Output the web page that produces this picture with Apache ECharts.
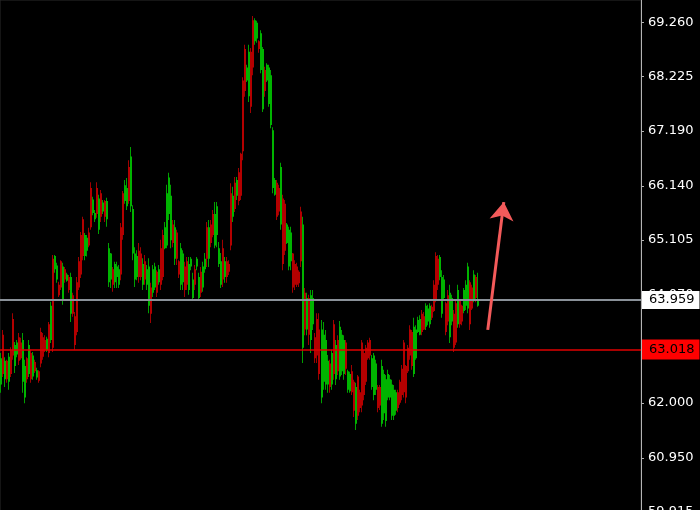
<!DOCTYPE html>
<html>
<head>
<meta charset="utf-8">
<script src="https://cdn.jsdelivr.net/npm/echarts@6/dist/echarts.min.js"></script>
<style>
html,body{margin:0;padding:0;background:#000;overflow:hidden;}
#c{width:700px;height:530px;}
</style>
</head>
<body>
<div id="c"></div>
<script>
// ---- data ----
const open = [
62.35,63.30,62.45,62.80,62.40,63.00,63.60,62.70,62.92,63.25,
63.15,62.40,62.10,62.85,62.55,62.95,62.50,62.78,62.48,62.60,
63.35,63.25,63.20,63.00,63.50,63.20,64.75,64.55,64.35,64.25,
64.70,63.95,64.55,64.33,64.40,63.70,64.05,63.65,64.30,64.70,
65.20,65.50,64.80,64.90,65.25,66.10,65.62,65.50,66.10,65.30,
66.00,65.65,65.85,65.50,64.30,64.35,64.55,64.30,64.40,64.25,
65.35,66.00,65.85,65.75,66.50,65.75,64.85,64.35,64.40,64.90,
64.85,64.25,64.70,64.25,63.85,64.20,64.10,64.20,64.50,64.30,
64.95,65.20,64.95,65.00,65.60,65.10,65.40,64.75,65.25,64.70,
64.25,64.30,64.60,64.70,64.15,64.60,64.00,64.55,64.60,64.00,
64.50,64.20,64.55,65.35,64.75,65.40,65.60,65.00,65.20,64.65,
64.25,64.95,64.40,64.70,64.65,66.00,65.55,66.20,65.95,66.40,
66.75,68.15,68.75,68.15,67.85,68.70,69.30,68.90,68.95,68.90,
68.35,67.60,68.35,68.15,67.70,67.30,66.10,65.97,66.20,66.10,
65.40,65.90,65.80,65.05,64.60,64.70,64.85,64.65,64.60,64.50,
65.65,63.05,64.10,63.40,64.00,63.20,63.50,63.25,63.60,63.40,
62.10,62.40,62.35,62.35,62.75,62.35,63.50,62.45,63.20,62.50,
62.60,62.55,63.15,62.25,62.22,62.60,62.40,61.60,62.50,62.20,
63.15,62.95,63.05,63.15,63.20,62.30,62.15,62.25,62.30,62.30,
61.60,61.80,61.65,62.10,62.10,61.75,61.75,61.85,62.20,62.40,
62.65,63.15,62.70,63.05,63.40,63.35,62.55,62.85,63.35,63.30,
63.70,63.65,63.45,63.55,63.50,63.83,64.25,64.80,64.75,64.40,
63.70,64.00,63.90,64.05,63.25,63.55,63.70,63.90,63.50,63.95,
63.85,63.75,63.85,63.80,64.30,64.20,63.95,64.40,63.85
];
const close = [
62.85,62.55,62.80,62.45,62.88,62.55,62.90,63.10,63.15,62.80,
62.85,63.20,62.70,62.45,63.10,62.45,62.90,62.60,62.62,62.42,
62.75,62.88,63.00,63.22,62.95,63.85,63.05,64.80,64.62,64.05,
64.20,64.60,64.35,64.45,64.15,64.40,63.70,63.10,63.35,64.20,
64.45,64.80,65.20,65.15,65.00,65.35,65.88,65.62,65.60,65.90,
65.55,65.82,65.55,65.85,64.95,64.85,64.25,64.65,64.60,64.55,
64.45,65.20,66.15,66.10,65.85,66.70,65.70,64.85,64.80,64.40,
64.40,64.65,64.35,64.55,64.60,63.70,64.55,64.60,64.10,64.55,
64.25,64.40,65.35,66.00,66.30,65.95,65.05,65.35,64.75,64.45,
64.95,64.85,64.15,64.25,64.65,64.75,64.35,64.25,64.75,64.40,
64.10,64.60,64.75,64.75,65.35,65.05,65.20,65.60,65.75,64.95,
64.70,64.35,64.70,64.40,64.50,65.00,65.95,65.70,66.25,65.85,
65.95,66.80,67.95,68.40,68.70,67.65,68.40,69.30,69.25,68.75,
69.05,68.75,67.95,68.45,68.40,68.25,67.20,66.25,65.55,65.65,
66.50,64.65,64.90,65.40,65.30,65.25,64.20,64.25,64.25,64.28,
64.70,65.40,63.40,64.00,63.30,64.05,64.00,62.85,62.90,62.55,
63.40,63.30,63.20,62.80,62.30,62.95,62.55,63.10,62.60,63.45,
63.30,63.20,62.65,62.60,62.55,62.20,61.85,62.30,61.75,61.90,
61.95,62.15,62.40,62.85,62.90,62.85,62.90,62.75,61.90,61.95,
62.70,62.55,62.45,62.55,62.45,62.35,62.25,62.20,61.90,62.00,
62.15,62.20,62.10,62.60,62.90,62.70,63.45,63.40,63.58,63.60,
63.35,63.40,63.85,63.80,63.85,63.62,63.75,63.95,64.25,64.78,
64.40,64.35,63.35,63.55,64.10,64.00,63.05,63.15,64.15,63.50,
63.55,64.15,64.25,64.60,63.50,63.80,64.45,64.00,63.959
];
const low = [
62.19,62.49,62.30,62.38,62.25,62.49,62.82,62.57,62.87,62.72,
62.82,62.19,61.99,62.38,62.49,62.38,62.44,62.57,62.44,62.38,
62.68,62.82,62.97,62.97,62.87,63.14,62.97,64.48,64.29,64.02,
64.15,63.87,64.29,64.31,64.10,63.54,63.64,63.01,63.29,64.15,
64.38,64.72,64.72,64.79,64.97,65.30,65.58,65.45,65.53,65.22,
65.45,65.60,65.45,65.36,64.21,64.19,64.12,64.19,64.19,64.19,
64.34,65.11,65.80,65.68,65.80,65.64,64.72,64.21,64.34,64.29,
64.34,64.15,64.25,64.15,63.71,63.52,64.02,64.15,64.02,64.25,
64.15,64.34,64.93,64.95,65.49,64.95,64.97,64.63,64.63,64.38,
64.15,64.15,64.02,64.15,64.06,64.53,63.96,64.15,64.53,63.96,
64.02,64.12,64.48,64.59,64.59,64.97,65.16,64.95,64.97,64.59,
64.19,64.21,64.29,64.29,64.44,64.91,65.45,65.64,65.87,65.77,
65.87,66.63,67.84,68.12,67.74,67.53,68.25,68.83,68.87,68.68,
68.29,67.55,67.84,68.12,67.65,67.24,66.00,65.95,65.49,65.58,
65.30,64.53,64.82,65.03,64.53,64.53,64.10,64.15,64.21,64.21,
64.59,62.76,63.29,63.29,63.10,62.95,63.39,62.76,62.76,62.44,
61.99,62.25,62.25,62.19,62.19,62.25,62.44,62.34,62.53,62.44,
62.53,62.44,62.53,62.19,62.19,62.15,61.73,61.48,61.67,61.82,
61.82,62.05,62.34,62.82,62.82,62.25,62.05,62.15,61.82,61.86,
61.54,61.67,61.54,62.05,62.05,61.67,61.67,61.77,61.82,61.96,
62.05,62.10,61.99,62.57,62.82,62.63,62.49,62.82,63.33,63.29,
63.29,63.39,63.39,63.48,63.43,63.58,63.73,63.92,64.15,64.34,
63.62,63.96,63.29,63.48,63.14,63.48,62.97,63.10,63.43,63.43,
63.48,63.71,63.77,63.71,63.39,63.77,63.92,63.92,63.83
];
const high = [
62.95,63.39,62.87,62.82,62.95,63.06,63.71,63.16,63.20,63.33,
63.24,63.33,62.82,62.87,63.20,63.01,62.97,62.82,62.67,62.62,
63.43,63.33,63.29,63.26,63.54,63.93,64.82,64.82,64.67,64.31,
64.72,64.67,64.59,64.48,64.44,64.48,64.10,63.73,64.40,64.78,
65.26,65.55,65.24,65.20,65.34,66.21,65.93,65.68,66.21,65.97,
66.06,65.87,65.87,65.91,65.05,64.86,64.59,64.69,64.69,64.63,
65.43,66.04,66.25,66.29,66.63,66.88,65.77,64.97,64.91,65.05,
64.97,64.76,64.82,64.63,64.76,64.29,64.63,64.67,64.53,64.63,
65.11,65.30,65.45,66.16,66.39,66.16,65.49,65.49,65.30,64.72,
65.05,64.91,64.69,64.78,64.78,64.78,64.48,64.63,64.78,64.48,
64.59,64.69,64.86,65.45,65.49,65.49,65.68,65.83,65.83,65.07,
64.86,65.11,64.78,64.78,64.72,66.19,66.12,66.31,66.31,66.48,
66.77,68.21,68.83,68.45,68.83,68.77,69.38,69.34,69.29,68.92,
69.11,68.79,68.41,68.48,68.45,68.35,67.26,66.29,66.25,66.16,
66.58,65.97,65.87,65.43,65.36,65.36,64.86,64.72,64.67,64.53,
65.74,65.55,64.19,64.10,64.06,64.15,64.15,63.33,63.71,63.71,
63.58,63.54,63.39,62.91,62.82,63.01,63.58,63.20,63.29,63.56,
63.39,63.29,63.20,62.63,62.59,62.72,62.44,62.38,62.53,62.25,
63.20,63.01,63.10,63.20,63.24,62.91,62.95,62.82,62.34,62.34,
62.82,62.63,62.53,62.63,62.53,62.44,62.34,62.25,62.25,62.44,
62.72,63.20,62.72,63.10,63.48,63.39,63.62,63.48,63.64,63.67,
63.77,63.73,63.90,63.87,63.90,63.87,64.34,64.87,64.82,64.82,
64.53,64.44,63.93,64.15,64.25,64.06,63.77,63.96,64.25,63.96,
63.87,64.19,64.34,64.67,64.34,64.25,64.53,64.44,64.48
];
const yTicks = [69.260, 68.225, 67.190, 66.140, 65.105, 64.070, 63.035, 62.000, 60.950, 59.915];
const currentPrice = 63.959;
const levelPrice = 63.018;
const arrowFrom = [243, 63.39];
const arrowTo = [251, 65.83];
const slotCount = 320; // bars plus the empty right-side shift area
const categories = Array.from({length: slotCount}, (_, i) => String(i));

const bars = open.map((o, i) => [i, o, close[i], low[i], high[i]]);

const UP_BODY = '#00b400', UP_WICK = '#00a000';
const DN_BODY = '#b40000', DN_WICK = '#a00000';

const chart = echarts.init(document.getElementById('c'), null, {renderer: 'canvas'});
const labelFont = 'DejaVu Sans';

function renderBar(params, api) {
  const idx = api.value(0);
  const o = api.value(1), c = api.value(2), l = api.value(3), h = api.value(4);
  const pO = api.coord([idx, o]);
  const pC = api.coord([idx, c]);
  const pL = api.coord([idx, l]);
  const pH = api.coord([idx, h]);
  const up = c >= o;
  const x = Math.round(pO[0]);
  const top = Math.min(pO[1], pC[1]);
  const hgt = Math.max(1, Math.abs(pO[1] - pC[1]));
  return {
    type: 'group',
    children: [
      {type: 'rect', shape: {x: x - 1, y: pH[1], width: 1, height: Math.max(1, pL[1] - pH[1])},
       style: {fill: up ? UP_WICK : DN_WICK}},
      {type: 'rect', shape: {x: x - 1, y: top, width: 2, height: hgt},
       style: {fill: up ? UP_BODY : DN_BODY}}
    ]
  };
}

function priceLine(value, lineColor, lineWidth, boxColor, pad) {
  return {
    type: 'line',
    data: [],
    markLine: {
      silent: true,
      symbol: 'none',
      precision: 3,
      animation: false,
      lineStyle: {color: lineColor, width: lineWidth, type: 'solid', opacity: 1},
      label: {
        show: true, position: 'end', distance: 1,
        formatter: p => Number(p.value).toFixed(3),
        color: '#000', backgroundColor: boxColor,
        padding: pad, fontFamily: labelFont, fontSize: 13, lineHeight: 14
      },
      data: [{yAxis: value}]
    }
  };
}

chart.setOption({
  animation: false,
  backgroundColor: '#000000',
  grid: {left: 0, right: 59, top: 0, bottom: 0, show: true, borderColor: '#2a2a2a', borderWidth: 1, backgroundColor: 'transparent'},
  xAxis: {
    type: 'category',
    data: categories,
    boundaryGap: true,
    show: false
  },
  yAxis: {
    type: 'value',
    position: 'right',
    min: 59.572,
    max: 69.686,
    splitLine: {show: false},
    axisLine: {show: true, lineStyle: {color: '#b4b4b4', width: 1}},
    axisTick: {show: true, length: 3, customValues: yTicks, lineStyle: {color: '#b4b4b4'}},
    axisLabel: {
      customValues: yTicks,
      formatter: v => v.toFixed(3),
      color: '#ffffff',
      fontFamily: labelFont,
      fontSize: 13,
      margin: 7
    }
  },
  series: [
    {
      type: 'custom',
      data: bars,
      encode: {x: 0, y: [1, 2, 3, 4]},
      renderItem: renderBar,
      clip: true,
      silent: true
    },
    priceLine(currentPrice, '#8a9199', 2, '#ffffff', [2, 5, 2, 7]),
    priceLine(levelPrice, '#e00000', 1.5, '#ff0000', [3, 5, 3, 7]),
    {
      type: 'line',
      data: [],
      markLine: {
        silent: true,
        animation: false,
        symbol: ['none', 'arrow'],
        symbolSize: 18,
        lineStyle: {color: '#f35a5a', width: 3, type: 'solid'},
        label: {show: false},
        data: [[{coord: arrowFrom}, {coord: arrowTo}]]
      }
    }
  ]
});
</script>
</body>
</html>
